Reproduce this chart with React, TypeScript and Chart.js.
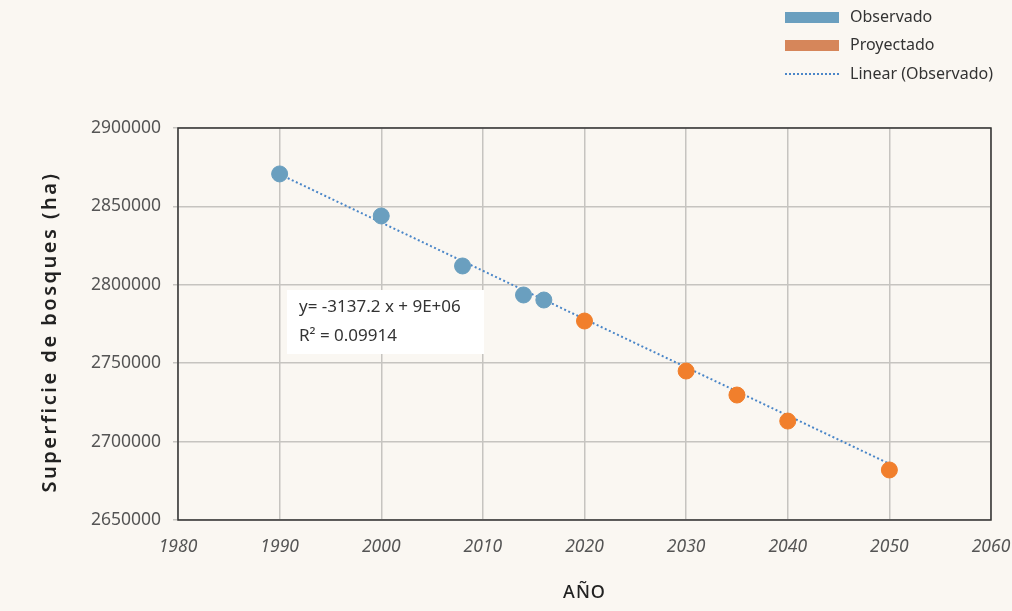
import React, { useEffect, useRef } from "react";
import { Chart, registerables } from "chart.js";

Chart.register(...registerables);

const observedYears = [1990, 2000, 2008, 2014, 2016];
const observedValues = [2870700, 2843900, 2812000, 2793500, 2790300];
const projectedYears = [2020, 2030, 2035, 2040, 2050];
const projectedValues = [2776900, 2745000, 2729700, 2713100, 2681900];
const trendYears = [1990, 2050.6];
const trendValues = [2870500, 2684000];
const xTicks = [1980, 1990, 2000, 2010, 2020, 2030, 2040, 2050, 2060];
const yTicks = [2650000, 2700000, 2750000, 2800000, 2850000, 2900000];
const equationLines = ["y= -3137.2 x + 9E+06", "R² = 0.09914"];
const legendLabels = ["Observado", "Proyectado", "Linear (Observado)"];

const BG = "#faf7f2";
const BLUE = "#6a9fbf";
const ORANGE = "#f17f2c";
const LEG_ORANGE = "#d6865a";
const TREND = "#4a86c8";
const FONT = "'Noto Sans', 'Open Sans', sans-serif";

export default function App() {
  const ref = useRef<HTMLCanvasElement | null>(null);

  useEffect(() => {
    document.body.style.margin = "0";
    document.body.style.background = BG;
    const canvas = ref.current!;
    const overlay = {
      id: "overlay",
      beforeDraw(chart: any) {
        const ctx = chart.ctx;
        ctx.save();
        ctx.fillStyle = BG;
        ctx.fillRect(0, 0, chart.width, chart.height);
        ctx.restore();
      },
      afterDatasetsDraw(chart: any) {
        const ctx = chart.ctx;
        const a = chart.chartArea;
        ctx.save();
        // frame
        ctx.strokeStyle = "#333";
        ctx.lineWidth = 1.5;
        ctx.strokeRect(a.left, a.top, a.right - a.left, a.bottom - a.top);
        // equation box
        ctx.fillStyle = "#ffffff";
        ctx.fillRect(287, 290, 197, 64);
        ctx.fillStyle = "#333";
        ctx.font = `17px ${FONT}`;
        ctx.textBaseline = "middle";
        ctx.textAlign = "left";
        ctx.fillText(equationLines[0], 299, 307);
        ctx.fillText(equationLines[1], 299, 336);
        // axis titles
        ctx.fillStyle = "#222";
        (ctx as any).letterSpacing = "2.5px";
        ctx.font = `600 20px ${FONT}`;
        ctx.textAlign = "center";
        ctx.save();
        ctx.translate(50, 332);
        ctx.rotate(-Math.PI / 2);
        ctx.fillText("Superficie de bosques (ha)", 0, 0);
        ctx.restore();
        (ctx as any).letterSpacing = "1px";
        ctx.font = `500 18px ${FONT}`;
        ctx.fillText("AÑO", (a.left + a.right) / 2, 593);
        (ctx as any).letterSpacing = "0px";
        // legend
        ctx.fillStyle = BLUE;
        ctx.fillRect(785, 12, 54, 11);
        ctx.fillStyle = LEG_ORANGE;
        ctx.fillRect(785, 40, 54, 11);
        ctx.strokeStyle = TREND;
        ctx.lineWidth = 2;
        ctx.setLineDash([2, 2]);
        ctx.beginPath();
        ctx.moveTo(785, 74);
        ctx.lineTo(839, 74);
        ctx.stroke();
        ctx.setLineDash([]);
        ctx.fillStyle = "#333";
        ctx.font = `16px ${FONT}`;
        ctx.textAlign = "left";
        ctx.fillText(legendLabels[0], 850, 17);
        ctx.fillText(legendLabels[1], 850, 45);
        ctx.fillText(legendLabels[2], 850, 74);
        ctx.restore();
      },
    };

    const chart = new Chart(canvas, {
      type: "scatter",
      data: {
        datasets: [
          {
            label: "Linear (Observado)",
            type: "line",
            data: trendYears.map((x, i) => ({ x, y: trendValues[i] })),
            borderColor: TREND,
            borderWidth: 2,
            borderDash: [2, 2.5],
            pointRadius: 0,
            fill: false,
            order: 3,
          } as any,
          {
            label: "Observado",
            data: observedYears.map((x, i) => ({ x, y: observedValues[i] })),
            backgroundColor: BLUE,
            borderColor: BLUE,
            pointRadius: 8,
            order: 1,
          },
          {
            label: "Proyectado",
            data: projectedYears.map((x, i) => ({ x, y: projectedValues[i] })),
            backgroundColor: ORANGE,
            borderColor: ORANGE,
            pointRadius: 8,
            order: 1,
          },
        ],
      },
      options: {
        animation: false,
        responsive: false,
        layout: { padding: { left: 0, top: 128, right: 21, bottom: 0 } },
        plugins: { legend: { display: false }, tooltip: { enabled: false } },
        scales: {
          x: {
            type: "linear",
            min: 1980,
            max: 2060,
            afterBuildTicks: (s: any) => {
              s.ticks = xTicks.map((v) => ({ value: v }));
            },
            afterFit: (s: any) => {
              s.height = 91;
              s.paddingLeft = 0;
              s.paddingRight = 0;
            },
            grid: { color: "#c6c4c0", lineWidth: 1.5, tickLength: 0, drawTicks: false },
            border: { display: false },
            ticks: {
              color: "#555",
              font: { family: FONT, size: 17.5, style: "italic" },
              padding: 17,
              maxRotation: 0,
              callback: (v: any) => String(v),
            },
          },
          y: {
            min: 2650000,
            max: 2900000,
            afterBuildTicks: (s: any) => {
              s.ticks = yTicks.map((v) => ({ value: v }));
            },
            afterFit: (s: any) => {
              s.width = 178;
              s.paddingTop = 0;
              s.paddingBottom = 0;
            },
            grid: { color: "#c6c4c0", lineWidth: 1.5, tickLength: 5 },
            border: { display: false },
            ticks: {
              color: "#555",
              font: { family: FONT, size: 17.5 },
              padding: 12,
              callback: (v: any) => String(v),
            },
          },
        },
      },
      plugins: [overlay],
    } as any);
    return () => chart.destroy();
  }, []);

  return (
    <div style={{ width: 1012, height: 611, background: BG }}>
      <canvas ref={ref} width={1012} height={611} style={{ display: "block" }} />
    </div>
  );
}
